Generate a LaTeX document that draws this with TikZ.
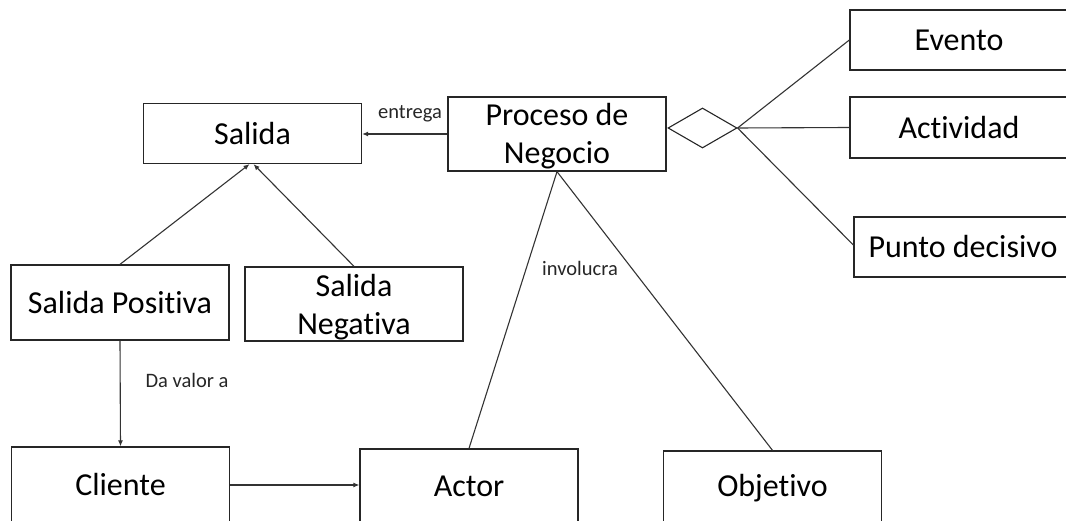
\documentclass[tikz,border=0pt]{standalone}
\usepackage{fontspec}
\setmainfont{Carlito}[Ligatures={NoCommon,NoRequired,NoContextual}]
\usetikzlibrary{shapes.geometric,arrows.meta,calc}
\begin{document}
\begin{tikzpicture}[x=1pt,y=-1pt,
  box/.style={draw=black!85, line width=1.3pt, minimum width=218pt, inner sep=0pt,
    align=center, font=\fontsize{32}{38}\selectfont},
  boxtext/.style={inner sep=0pt, align=center, font=\fontsize{32}{38}\selectfont},
  link/.style={draw=black!80, line width=1.1pt},
  arr/.style={link, -{Latex[length=6pt,width=5pt]}},
  lbl/.style={font=\fontsize{20.5}{24}\selectfont, text=black!85, inner sep=0pt}]
\useasboundingbox (0,0) rectangle (1066,521);
\clip (0,0) rectangle (1066,521);

% concept boxes
\node[box, minimum height=60pt] (salida) at (252.5,133.5) {Salida};
\node[box, minimum height=74pt] (proceso) at (557,134) {};
\node[boxtext] (procesotext) at (557,136) {Proceso de\\Negocio};
\node[box, minimum height=60pt] (evento) at (959,40) {Evento};
\node[box, minimum height=61pt] (actividad) at (959,127.5) {Actividad};
\node[box, minimum height=60pt] (punto) at (963,247) {Punto decisivo};
\node[box, minimum height=75pt] (salpos) at (120,302.5) {Salida Positiva};
\node[box, minimum height=74pt] (salneg) at (354,304) {};
\node[boxtext] (salnegtext) at (354,307) {Salida\\Negativa};
\node[box, minimum height=75pt] (cliente) at (120.5,484.5) {Cliente};
\node[box, minimum height=75pt] (actor) at (469,486.5) {Actor};
\node[box, minimum height=75pt] (objetivo) at (772.5,488.5) {Objetivo};

% aggregation diamond
\node[diamond, draw=black!85, line width=1.1pt, minimum width=69pt, minimum height=40pt,
  inner sep=0pt] (agg) at (702.5,128) {};

% connectors
\draw[arr] (proceso.west) -- (salida.east |- proceso.west);
\draw[link] (agg.east) -- (evento.west);
\draw[link] (agg.east) -- (actividad.west);
\draw[link] (agg.east) -- ($(punto.west)+(0,-2)$);
\draw[arr] (salpos.north) -- ($(salida.south)+(-3,0)$);
\draw[arr] (salneg.north) -- ($(salida.south)+(1,0)$);
\draw[arr] (salpos.south) -- (cliente.north);
\draw[arr] (cliente.east |- 0,485) -- (actor.west |- 0,485);
\draw[link] (proceso.south) -- (actor.north);
\draw[link] (proceso.south) -- (objetivo.north);

% labels
\node[lbl] (lentrega) at (410,114) {entrega};
\node[lbl] (ldavalor) at (187,380) {Da valor a};
\node[lbl] (linvolucra) at (580,268) {involucra};
\end{tikzpicture}
\end{document}
